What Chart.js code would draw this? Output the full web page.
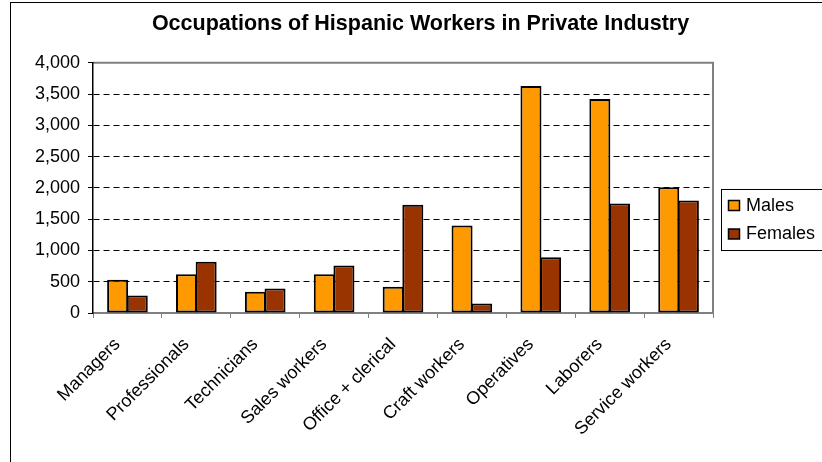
<!DOCTYPE html>
<html>
<head>
<meta charset="utf-8">
<script src="https://cdn.jsdelivr.net/npm/chart.js@4"></script>
<style>
  html, body { margin: 0; padding: 0; background: #fff; overflow: hidden; }
  #wrap { width: 822px; height: 462px; overflow: hidden; }
  canvas { display: block; }
</style>
</head>
<body>
<div id="wrap"><canvas id="chartOccupations" width="841" height="470"></canvas></div>
<script>
const categories = ['Managers', 'Professionals', 'Technicians', 'Sales workers', 'Office + clerical',
  'Craft workers', 'Operatives', 'Laborers', 'Service workers'];
const males = [530, 620, 340, 620, 420, 1400, 3630, 3420, 2010];
const females = [280, 820, 390, 760, 1730, 150, 890, 1750, 1800];
const yTicks = [0, 500, 1000, 1500, 2000, 2500, 3000, 3500, 4000];

const fontFamily = "'Liberation Sans', Arial, sans-serif";

// frame, plot border and legend drawn around the chart
const framePlugin = {
  id: 'frame',
  beforeDraw(chart) {
    const c = chart.ctx;
    const a = chart.chartArea;
    c.save();
    c.fillStyle = '#fff';
    c.fillRect(0, 0, chart.width, chart.height);
    c.strokeStyle = '#000';
    c.lineWidth = 1;
    c.strokeRect(10.5, 2.5, 820, 464);
    c.strokeStyle = '#808080';
    c.lineWidth = 2;
    c.beginPath();
    c.moveTo(a.left, a.top);
    c.lineTo(a.right, a.top);
    c.lineTo(a.right, a.bottom);
    c.stroke();
    c.restore();
  },
  afterDraw(chart) {
    const c = chart.ctx;
    c.save();
    c.strokeStyle = '#000';
    c.lineWidth = 1;
    c.strokeRect(721.5, 189.5, 110, 61);
    c.font = '18px ' + fontFamily;
    c.textBaseline = 'middle';
    chart.data.datasets.forEach((ds, i) => {
      const y = 200.5 + i * 28.5;
      c.fillStyle = ds.backgroundColor;
      c.fillRect(728.5, y, 11, 10);
      c.lineWidth = 1.5;
      c.strokeRect(728.5, y, 11, 10);
      c.fillStyle = '#000';
      c.fillText(ds.label, 746, y + 5.5);
    });
    c.restore();
  }
};

const ctx_1 = document.getElementById('chartOccupations');

new Chart(ctx_1, {
  type: 'bar',
  data: {
    labels: categories,
    datasets: [{
      label: 'Males',
      data: males,
      backgroundColor: '#FF9900',
      borderColor: '#000',
      borderWidth: 2,
      borderSkipped: false
    }, {
      label: 'Females',
      data: females,
      backgroundColor: '#993300',
      borderColor: '#000',
      borderWidth: 2,
      borderSkipped: false
    }]
  },
  options: {
    responsive: false,
    animation: false,
    devicePixelRatio: 1,
    categoryPercentage: 0.57,
    barPercentage: 1.07,
    layout: {
      padding: 0
    },
    scales: {
      x: {
        afterFit(scale) { scale.height = 470 - 313; },
        grid: {
          offset: true,
          drawOnChartArea: false,
          drawTicks: true,
          tickLength: 5,
          tickColor: '#808080',
          tickWidth: 1
        },
        border: { color: '#808080', width: 2 },
        ticks: {
          minRotation: 45,
          maxRotation: 45,
          autoSkip: false,
          padding: 16,
          labelOffset: -10,
          color: '#000',
          font: { family: fontFamily, size: 18 }
        }
      },
      y: {
        min: 0,
        max: 4000,
        afterFit(scale) { scale.width = 93; },
        afterBuildTicks(scale) { scale.ticks = yTicks.map(v => ({ value: v })); },
        grid: {
          color: (c) => (c.tick && (c.tick.value === 0 || c.tick.value === 4000)) ? 'rgba(0,0,0,0)' : '#000',
          lineWidth: 1,
          drawTicks: true,
          tickLength: 5,
          tickColor: '#000',
          tickWidth: 1
        },
        border: { color: '#000', width: 1.5, dash: [6, 4] },
        ticks: {
          padding: 8,
          color: '#000',
          font: { family: fontFamily, size: 18 }
        }
      },
      // empty right axis: keeps room for the legend while the title stays centred on the whole chart
      yRoom: {
        position: 'right',
        afterFit(scale) { scale.width = 128; },
        grid: { display: false },
        border: { display: false },
        ticks: { display: false }
      }
    },
    plugins: {
      legend: { display: false },
      tooltip: { enabled: false },
      title: {
        display: true,
        text: 'Occupations of Hispanic Workers in Private Industry',
        color: '#000',
        font: { family: fontFamily, size: 21.5, weight: 'bold', lineHeight: 1.2 },
        padding: { top: 11, bottom: 26 }
      }
    }
  },
  plugins: [framePlugin]
});
</script>
</body>
</html>
